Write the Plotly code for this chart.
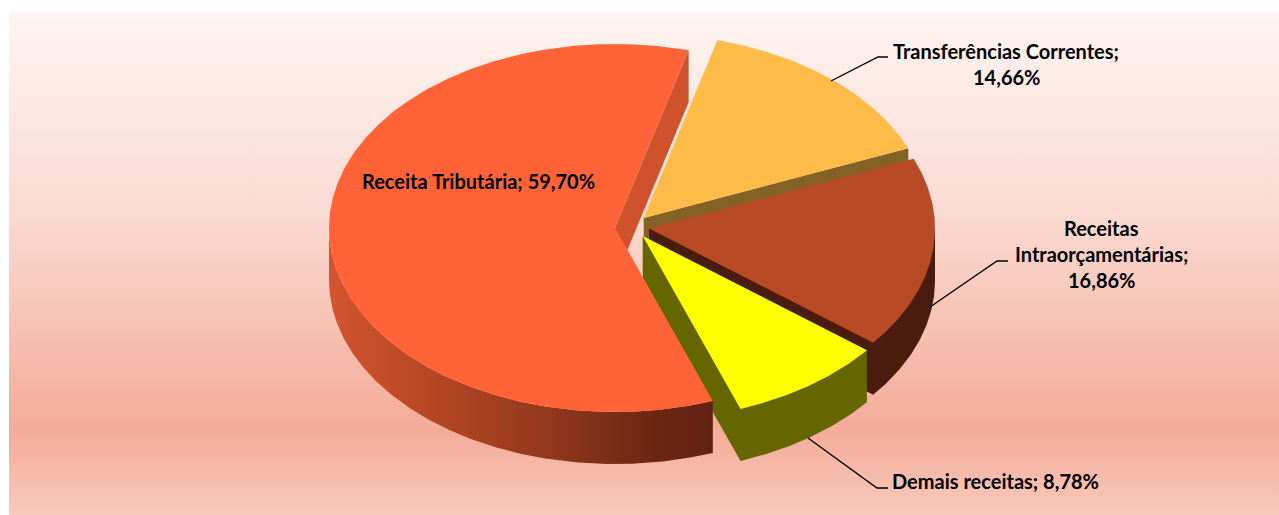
import math
import plotly.graph_objects as go

# ---- data ----
categories = ["Receita Tributária", "Transferências Correntes", "Receitas Intraorçamentárias", "Demais receitas"]
shares = [59.70, 14.66, 16.86, 8.78]

# ---- styling / layout constants ----
W, H = 1279, 515
ROTATION = 160.0              # degrees clockwise from north where the first slice starts
RX, RY, DEPTH = 286.0, 184.0, 52.0
VERTICES = [(615.0, 228.0), (643.7, 218.0), (649.0, 228.5), (642.7, 236.0)]
TOP = ["#FF6337", "#FFBB47", "#B84A26", "#FFFF00"]
WALL = ["#D0522D", "#846225", "#4A1C0E", "#666600"]
RED_SIDE = [[0.0, "#D2552F"], [0.3, "#B34522"], [0.6, "#8E361C"], [0.85, "#6B2613"], [1.0, "#622212"]]
BG = [[0.0, "#FFF5F2"], [0.4, "#FADAD2"], [0.83, "#F4AB98"], [1.0, "#F8C9BB"]]
FONT = "Lato"
FS = 20.0
NPTS = 720

fig = go.Figure()


def poly(xs, ys, color=None, gradient=None):
    kw = dict(fillgradient=gradient) if gradient else dict(fillcolor=color)
    fig.add_trace(go.Scatter(x=xs, y=ys, mode="lines", fill="toself", line=dict(width=0),
                             hoverinfo="skip", showlegend=False, **kw))


def arc(v, a0, a1, dy=0.0):
    n = max(2, int(NPTS * abs(a1 - a0) / 360) + 2)
    pts = [a0 + (a1 - a0) * i / (n - 1) for i in range(n)]
    return ([v[0] + RX * math.sin(math.radians(t)) for t in pts],
            [v[1] - RY * math.cos(math.radians(t)) + dy for t in pts])


# slice angular extents derived from the shares
spans, cur = [], ROTATION
for s in shares:
    spans.append((cur, cur + s * 3.6))
    cur += s * 3.6


def edge_wall(v, ang, color):
    x, y = arc(v, ang, ang)
    ex, ey = x[0], y[0]
    poly([v[0], ex, ex, v[0]], [v[1], ey, ey + DEPTH, v[1] + DEPTH], color)


def rim_and_edge(i, a0, a1, color):
    """One polygon for the inner cut face at a1 and the rim from a1 back to a0 (no seam)."""
    v = VERTICES[i]
    xb, yb = arc(v, a1, a0, DEPTH)
    xt, yt = arc(v, a0, a0)
    poly([v[0], v[0]] + xb + [xt[0], v[0]], [v[1], v[1] + DEPTH] + yb + [yt[0], v[1]], color)


def outer_wall(i, a0, a1, color=None, gradient=None):
    xt, yt = arc(VERTICES[i], a0, a1)
    xb, yb = arc(VERTICES[i], a0, a1, DEPTH)
    poly(xt + xb[::-1], yt + yb[::-1], color, gradient)


def top(i):
    a0, a1 = spans[i]
    xs, ys = arc(VERTICES[i], a0, a1)
    v = VERTICES[i]
    poly([v[0]] + xs + [v[0]], [v[1]] + ys + [v[1]], TOP[i])


# background
poly([9, W, W, 9], [11, 11, H, H],
     gradient=dict(type="vertical", colorscale=BG, start=11, stop=H))

# orange: only the far edge wall shows
edge_wall(VERTICES[1], spans[1][1], WALL[1])
top(1)
# brown (rim facing the viewer runs from due east to the slice end)
rim_and_edge(2, 450, spans[2][1], WALL[2])
top(2)
# yellow
rim_and_edge(3, spans[3][0], spans[3][1], WALL[3])
top(3)
# red
edge_wall(VERTICES[0], spans[0][1], WALL[0])
outer_wall(0, spans[0][0], 270, gradient=dict(type="horizontal", colorscale=RED_SIDE,
                                              start=VERTICES[0][0] - RX, stop=713))
top(0)

# leader lines
for lx, ly in [([831, 878, 888], [81, 57, 57]),
               ([930, 997, 1008], [307, 261, 261]),
               ([808, 877, 888], [438, 488, 488])]:
    fig.add_trace(go.Scatter(x=lx, y=ly, mode="lines", line=dict(color="#000000", width=1.4),
                             hoverinfo="skip", showlegend=False))


def pct(i):
    return f"{shares[i]:.2f}%".replace(".", ",")


labels = [
    (f"{categories[0]}; {pct(0)}", 478.5, 181),
    (f"{categories[1]};", 1006, 51),
    (pct(1), 1006, 77),
    ("Receitas", 1101, 228),
    ("Intraorçamentárias;", 1101, 254),
    (pct(2), 1101, 280),
    (f"{categories[3]}; {pct(3)}", 995.5, 481),
]
for t, x, y in labels:
    fig.add_annotation(x=x, y=y, text=f"<b>{t}</b>", showarrow=False, xanchor="center", yanchor="middle",
                       font=dict(family=FONT, size=FS, color="#000000"))

fig.update_layout(width=W, height=H, margin=dict(l=0, r=0, t=0, b=0), paper_bgcolor="#FFFFFF",
                  plot_bgcolor="rgba(0,0,0,0)", hovermode=False, showlegend=False,
                  xaxis=dict(range=[0, W], visible=False, fixedrange=True),
                  yaxis=dict(range=[H, 0], visible=False, fixedrange=True))

fig.write_html("out.html", config={"displayModeBar": False},
               post_script="document.body.style.margin='0';document.body.style.overflow='hidden';")
